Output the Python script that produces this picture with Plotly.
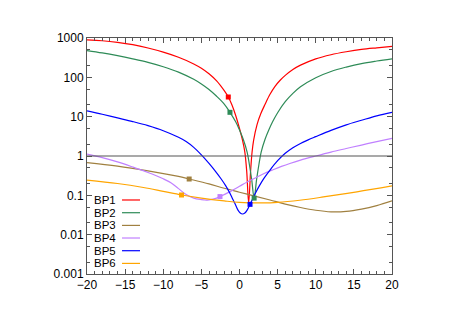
import plotly.graph_objects as go

# ---- data ----
names = ["BP1", "BP2", "BP3", "BP4", "BP5", "BP6"]
colors = ["#ff0000", "#2e8b57", "#a08040", "#c080ff", "#0000ff", "#ffa500"]

bp1_x = [-20, -18, -16, -14, -12, -10, -8, -6, -5, -4, -3, -2, -1.47, -1, -0.5, 0, 0.4, 0.7, 0.95, 1.2,
         1.45, 1.65, 1.85, 2.3, 2.8, 3.34, 4, 4.66, 5.3, 6, 7, 8, 10, 12, 14, 16, 18, 20]
bp1_y = [891, 851, 776, 676, 556, 437, 324, 219, 170, 123, 81, 45.7, 31.6, 20, 10.7, 5.0, 2.51, 1.26, 0.40, 0.065,
         0.40, 1.26, 2.51, 6.3, 12, 20.4, 37, 59, 83, 112, 158, 204, 295, 376, 447, 513, 562, 610]

bp2_x = [-20, -18, -16, -14, -12, -10, -8, -6, -5, -4, -3, -2, -1.25, -0.5, 0, 0.5, 1.0, 1.3, 1.6, 1.92,
         2.24, 2.54, 2.84, 3.34, 3.84, 4.34, 5, 6, 7, 8, 10, 12, 14, 16, 18, 20]
bp2_y = [479, 417, 355, 295, 240, 186, 136, 89, 67.6, 49, 33, 20.9, 12.9, 7.4, 4.57, 2.63, 1.26, 0.60, 0.25, 0.085,
         0.25, 0.60, 1.26, 2.63, 4.57, 7.4, 12.6, 24, 39, 57.5, 98, 141, 182, 224, 260, 295]

bp3_x = [-20, -16, -12, -8, -6.6, -4, -2, 0, 2, 4, 6, 8, 10, 12, 14, 16, 18, 20]
bp3_y = [0.676, 0.55, 0.417, 0.302, 0.26, 0.195, 0.151, 0.12, 0.0955, 0.076, 0.060, 0.049, 0.0417, 0.038, 0.039, 0.0447, 0.055, 0.0724]

bp4_x = [-20, -18, -16, -14, -12, -10, -9, -8, -7, -6, -5, -4.5, -4, -3, -2.56, -1.5, 0, 1, 2.26, 3.3,
         4.4, 5.5, 6.6, 8, 10, 12, 14, 16, 18, 20]
bp4_y = [1.12, 0.91, 0.71, 0.525, 0.38, 0.263, 0.209, 0.148, 0.105, 0.085, 0.078, 0.076, 0.077, 0.085, 0.093, 0.117, 0.17, 0.219, 0.288, 0.363,
         0.447, 0.543, 0.646, 0.785, 1.0, 1.26, 1.55, 1.9, 2.32, 2.82]

bp5_x = [-20, -18, -16, -14, -12, -10, -8, -7, -6, -5, -4, -3.2, -2.4, -1.8, -1.3, -0.9, -0.6, -0.2, 0.1, 0.4,
         0.7, 1.0, 1.38, 1.7, 2.1, 2.6, 3.2, 4, 5, 6, 7, 8, 9, 10, 12, 14, 16, 18, 20]
bp5_y = [14, 11.5, 9.3, 7.5, 5.9, 4.4, 3.0, 2.34, 1.66, 1.07, 0.65, 0.42, 0.26, 0.174, 0.117, 0.081, 0.062, 0.042, 0.0355, 0.0335,
         0.0355, 0.042, 0.059, 0.079, 0.115, 0.174, 0.27, 0.44, 0.76, 1.17, 1.62, 2.09, 2.57, 3.1, 4.47, 6.2, 8.1, 10.5, 12.9]

bp6_x = [-20, -16, -12.6, -10, -7.6, -5, -2, 0, 3, 5, 7.9, 11, 15.4, 20]
bp6_y = [0.245, 0.20, 0.158, 0.126, 0.102, 0.085, 0.072, 0.066, 0.064, 0.066, 0.075, 0.091, 0.123, 0.174]

# point markers seen on the curves
mark_x = [[-1.47], [-1.25, 1.92], [-6.6], [-2.56], [1.38], [-7.6]]
mark_y = [[31.6], [12.9, 0.085], [0.26], [0.093], [0.059], [0.102]]

unity = 1.0
x_ticks = [-20, -15, -10, -5, 0, 5, 10, 15, 20]
y_ticks = [0.001, 0.01, 0.1, 1, 10, 100, 1000]
y_ticktext = ["0.001", "0.01", "0.1", "1", "10", "100", "1000"]

series_x = [bp1_x, bp2_x, bp3_x, bp4_x, bp5_x, bp6_x]
series_y = [bp1_y, bp2_y, bp3_y, bp4_y, bp5_y, bp6_y]

fig = go.Figure()
for nm, c, xs, ys in zip(names, colors, series_x, series_y):
    fig.add_trace(go.Scatter(x=xs, y=ys, mode="lines", name=nm,
                             line=dict(color=c, width=1.2, shape="spline", smoothing=1.0),
                             showlegend=False))
for nm, c, mx, my in zip(names, colors, mark_x, mark_y):
    fig.add_trace(go.Scatter(x=mx, y=my, mode="markers", name=nm,
                             marker=dict(color=c, symbol="square", size=5),
                             showlegend=False))

fig.add_hline(y=unity, line=dict(color="#555555", width=1.2))

# gnuplot-style key: label then sample line
font = dict(family="Liberation Sans, Arial, sans-serif", size=12, color="black")
key_font = dict(family="Liberation Sans, Arial, sans-serif", size=11.5, color="black")
key_y = [0.3136, 0.2597, 0.2059, 0.1525, 0.0987, 0.0449]
for nm, c, yk in zip(names, colors, key_y):
    fig.add_annotation(x=0.0197, y=yk, xref="paper", yref="paper", text=nm,
                       showarrow=False, xanchor="left", yanchor="middle",
                       height=12, borderpad=0, font=key_font)
    fig.add_shape(type="line", xref="paper", yref="paper", x0=0.1148, x1=0.1738,
                  y0=yk, y1=yk, line=dict(color=c, width=1.2))

axis_common = dict(showline=True, linecolor="#555555", linewidth=1, mirror="ticks",
                   ticks="inside", ticklen=5, tickcolor="#555555", showgrid=False,
                   zeroline=False, tickfont=font)
fig.update_xaxes(range=[-20, 20], tickvals=x_ticks,
                 minor=dict(ticks="inside", ticklen=3, dtick=1, tickcolor="#555555", showgrid=False),
                 **axis_common)
fig.update_yaxes(type="log", range=[-3, 3], tickvals=y_ticks, ticktext=y_ticktext,
                 minor=dict(ticks="inside", ticklen=3, tickcolor="#555555", showgrid=False),
                 **axis_common)

fig.update_layout(width=444, height=312, margin=dict(l=79, r=60, t=30, b=46),
                  paper_bgcolor="white", plot_bgcolor="white", font=font)

fig.write_html("out.html")
